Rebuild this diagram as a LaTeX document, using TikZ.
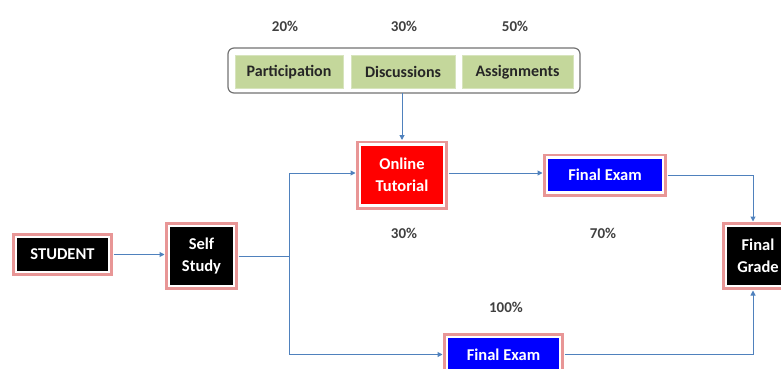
\documentclass[tikz,border=0pt]{standalone}
\usepackage{fontspec}
\setmainfont{Carlito}
\usetikzlibrary{arrows.meta}
\definecolor{glow}{RGB}{232,150,150}
\definecolor{conn}{RGB}{79,129,189}
\definecolor{greenfill}{RGB}{196,215,155}
\definecolor{greenedge}{RGB}{215,228,189}
\definecolor{pcttext}{RGB}{64,64,64}
\tikzset{
  dbox/.style={preaction={draw=glow,line width=8pt}, draw=white, line width=2.5pt,
    fill=black, text=white, font=\bfseries\fontsize{16.5}{22}\selectfont, align=center,
    inner sep=0pt, outer sep=4.5pt},
  gbox/.style={draw=greenedge, line width=1pt, fill=greenfill, text=black!85,
    font=\bfseries\fontsize{16}{18}\selectfont, inner sep=0pt, minimum height=32pt},
  pct/.style={text=pcttext, font=\bfseries\fontsize{15}{17}\selectfont},
  conn/.style={draw=conn, line width=1pt, -{Triangle[length=5pt,width=5pt]}},
  plain/.style={draw=conn, line width=1pt}
}
\begin{document}
\begin{tikzpicture}[x=1pt,y=-1pt]
\useasboundingbox (0,0) rectangle (781,369);
\clip (0,0) rectangle (781,369);

% percentages
\node[pct] (p20) at (285,26) {20\%};
\node[pct] (p30a) at (404,26) {30\%};
\node[pct] (p50) at (515,26) {50\%};
\node[pct] (p30b) at (404,233) {30\%};
\node[pct] (p70) at (603,233) {70\%};
\node[pct] (p100) at (506,307) {100\%};

% grouped components
\node[draw=black!55, line width=1.2pt, rounded corners=6pt, fill=white,
  minimum width=352pt, minimum height=45pt, inner sep=0pt, outer sep=0pt] (grp) at (404,70.5) {};
\node[gbox, minimum width=108pt] (part) at (289,72) {Participation};
\node[gbox, minimum width=104pt] (disc) at (403,72) {Discussions};
\node[gbox, minimum width=111pt] (asgn) at (517.5,72) {Assignments};

% main boxes
\node[dbox, minimum width=93pt, minimum height=35pt] (stud) at (62.5,254.5) {STUDENT};
\node[dbox, minimum width=65pt, minimum height=60pt] (self) at (201.5,256) {Self\\Study};
\node[dbox, fill=red, minimum width=84pt, minimum height=61pt] (ot) at (402,175) {Online\\Tutorial};
\node[dbox, fill=blue, minimum width=116pt, minimum height=35pt] (fe1) at (605,175) {Final Exam};
\node[dbox, minimum width=64pt, minimum height=60pt] (fg) at (758,256) {Final\\Grade};
\node[dbox, fill=blue, minimum width=113pt, minimum height=35pt] (fe2) at (503.5,354.5) {Final Exam};

% connectors
\coordinate (br) at (289,256);
\draw[conn] (ot.north |- grp.south) -- (ot.north);
\draw[conn] (stud.east) -- (stud.east -| self.west);
\draw[plain] (self.east) -- (br);
\draw[conn] (br) |- ([yshift=2pt]ot.west);
\draw[conn] (br) |- (fe2.west);
\draw[conn] ([yshift=2pt]ot.east) -- ([yshift=2pt]ot.east -| fe1.west);
\draw[conn] (fe1.east) -| ([xshift=-5pt]fg.north);
\draw[conn] (fe2.east) -| ([xshift=-5pt]fg.south);
\end{tikzpicture}
\end{document}
